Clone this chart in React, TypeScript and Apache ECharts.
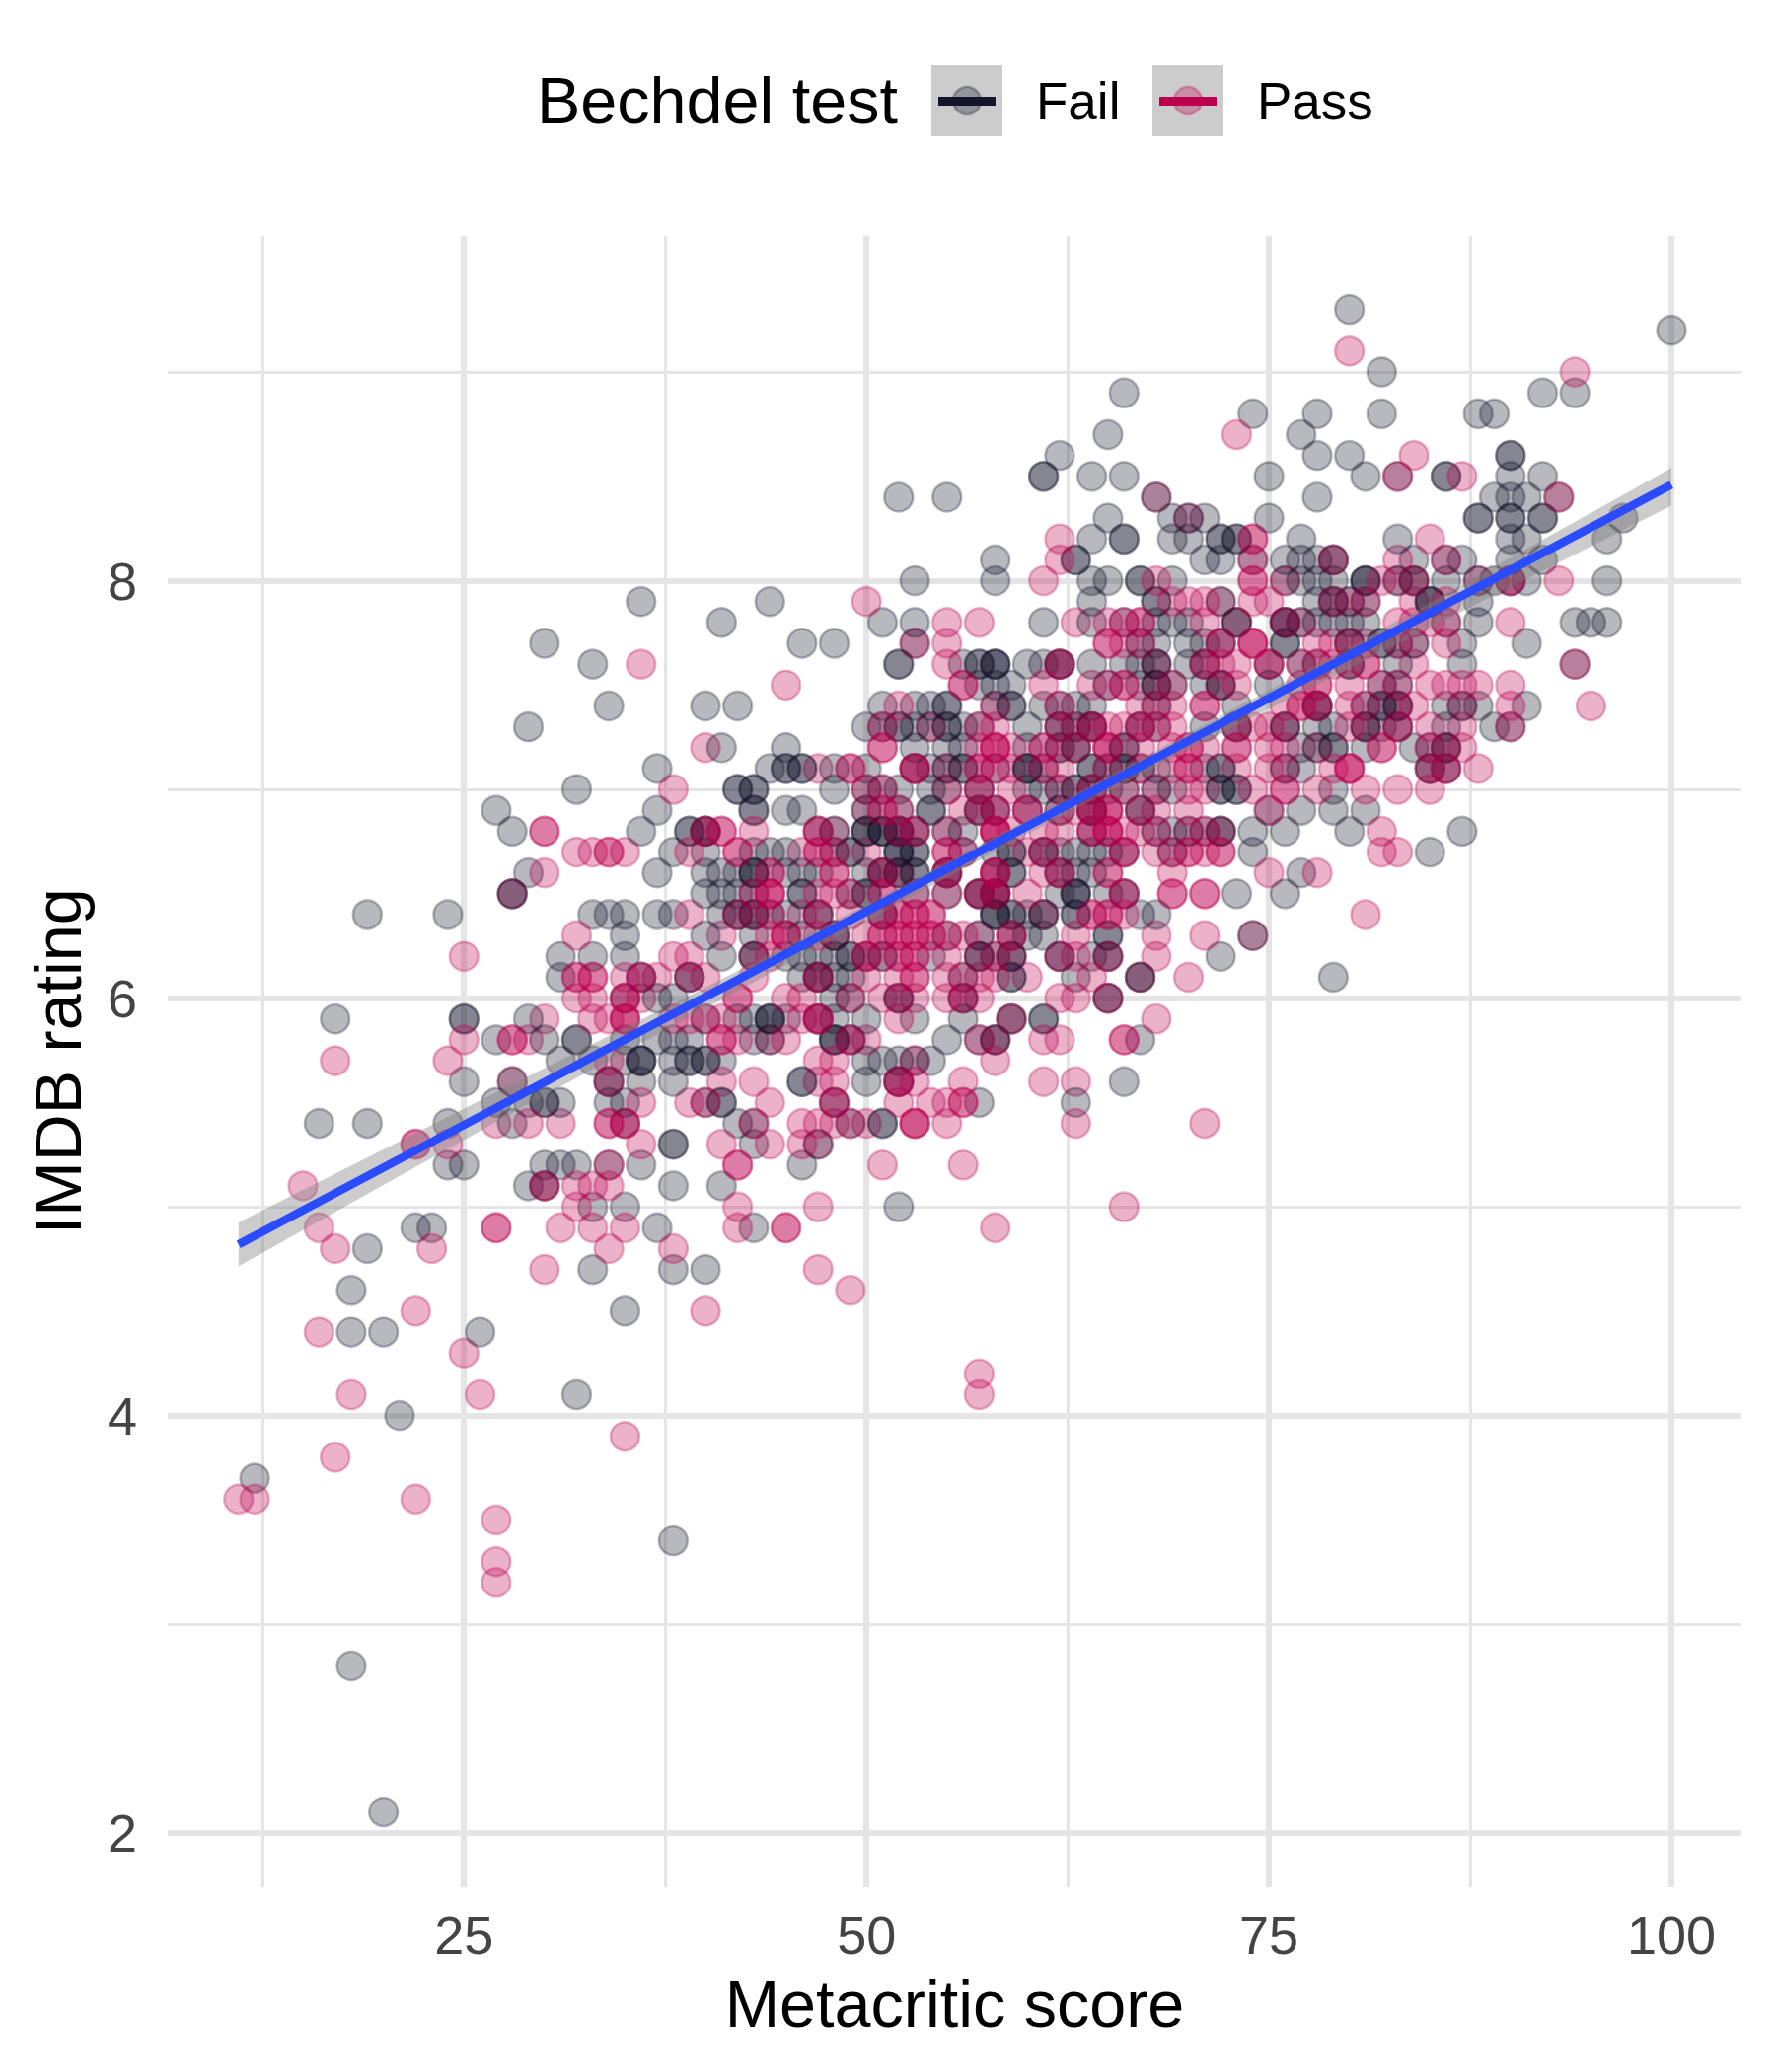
import React, { useEffect, useRef } from "react";
import * as echarts from "echarts";

const xMajor = [25, 50, 75, 100];
const xMinor = [12.5, 37.5, 62.5, 87.5];
const yMajor = [2, 4, 6, 8];
const yMinor = [3, 5, 7, 9];

// each row: [IMDB rating, [Metacritic scores...]]
const failRows: [number, number[]][] = [
  [9.3, [80]], [9.2, [100]], [9.0, [82]], [8.9, [66, 92, 94]], [8.8, [74, 78, 82, 88, 89]], [8.7, [65, 77]],
  [8.6, [62, 78, 80, 90, 90]], [8.5, [61, 61, 64, 66, 75, 81, 83, 86, 86, 90, 92]],
  [8.4, [52, 55, 68, 78, 89, 90, 91, 93]], [8.3, [65, 69, 70, 71, 75, 88, 88, 90, 90, 92, 92, 97]],
  [8.2, [64, 66, 66, 69, 70, 72, 72, 73, 73, 77, 83, 90, 91, 96]],
  [8.1, [58, 63, 63, 71, 72, 74, 76, 77, 78, 79, 79, 84, 86, 87, 90, 92]],
  [8.0, [53, 58, 64, 65, 67, 67, 69, 76, 77, 78, 79, 81, 81, 81, 83, 84, 84, 86, 88, 89, 90, 91, 96]],
  [7.9, [36, 44, 64, 68, 68, 72, 78, 79, 79, 80, 81, 85, 85, 85, 88]],
  [7.8, [41, 51, 53, 61, 64, 66, 68, 69, 70, 73, 73, 76, 76, 76, 77, 78, 79, 80, 81, 86, 88, 94, 95, 96]],
  [7.7, [30, 46, 48, 53, 67, 68, 70, 71, 72, 76, 76, 80, 80, 82, 82, 83, 84, 87, 91]],
  [7.6, [33, 52, 52, 56, 57, 57, 58, 58, 58, 60, 61, 62, 62, 64, 66, 67, 68, 68, 70, 71, 75, 77, 78, 80, 80, 83, 87, 94]],
  [7.5, [57, 58, 59, 65, 67, 68, 68, 69, 71, 72, 72, 75, 82, 83]],
  [7.4, [34, 40, 42, 51, 53, 54, 55, 55, 58, 59, 59, 61, 62, 63, 64, 68, 73, 78, 78, 81, 82, 82, 83, 83, 86, 87, 88, 91]],
  [7.3, [29, 50, 51, 52, 52, 53, 54, 55, 55, 56, 57, 60, 62, 62, 63, 64, 64, 67, 68, 71, 73, 73, 76, 76, 78, 79, 81, 81, 82, 83, 86, 89, 90]],
  [7.2, [41, 45, 53, 55, 56, 60, 62, 63, 63, 66, 66, 77, 78, 79, 79, 81, 84, 85, 86, 86]],
  [7.1, [37, 44, 45, 45, 46, 46, 48, 50, 53, 54, 55, 56, 56, 58, 60, 60, 60, 61, 64, 64, 65, 66, 66, 67, 68, 71, 72, 72, 76, 77, 85, 85, 86]],
  [7.0, [32, 42, 42, 43, 43, 48, 50, 51, 52, 54, 55, 57, 60, 61, 62, 63, 63, 64, 65, 66, 68, 69, 72, 72, 73, 73, 79]],
  [6.9, [27, 37, 43, 43, 45, 46, 50, 52, 54, 54, 57, 57, 58, 60, 62, 64, 64, 67, 67, 75, 77, 79, 81]],
  [6.8, [28, 36, 39, 39, 40, 40, 47, 48, 50, 50, 50, 51, 51, 51, 52, 52, 52, 53, 55, 56, 64, 68, 69, 70, 71, 72, 72, 74, 76, 80, 87]],
  [6.7, [38, 40, 43, 44, 45, 48, 49, 49, 52, 52, 52, 53, 53, 56, 58, 59, 59, 61, 61, 62, 63, 64, 65, 66, 69, 74, 85]],
  [6.6, [29, 37, 40, 41, 42, 43, 43, 43, 45, 46, 47, 50, 51, 51, 52, 52, 53, 53, 55, 55, 58, 59, 59, 62, 63, 64, 77]],
  [6.5, [28, 28, 40, 41, 42, 43, 46, 46, 49, 50, 50, 53, 55, 57, 57, 58, 58, 62, 63, 63, 63, 65, 66, 73, 76]],
  [6.4, [19, 24, 33, 34, 35, 37, 38, 41, 42, 42, 43, 43, 44, 45, 47, 47, 51, 51, 58, 58, 58, 59, 59, 60, 61, 61, 63, 63, 67, 68]],
  [6.3, [35, 40, 43, 46, 48, 48, 55, 57, 59, 60, 61, 65, 65, 74]],
  [6.2, [31, 33, 35, 41, 43, 43, 45, 46, 47, 48, 49, 49, 50, 51, 54, 57, 57, 58, 59, 59, 62, 62, 64, 65, 65, 72]],
  [6.1, [31, 36, 39, 39, 46, 47, 47, 48, 49, 56, 59, 59, 63, 67, 67, 79]],
  [6.0, [35, 37, 38, 48, 49, 52, 52, 56, 65, 65]],
  [5.9, [17, 25, 25, 29, 40, 42, 43, 44, 44, 44, 45, 47, 48, 50, 53, 56, 59, 59, 61, 61]],
  [5.8, [27, 30, 32, 32, 35, 37, 38, 39, 43, 44, 48, 48, 48, 49, 55, 57, 58, 58, 67]],
  [5.7, [31, 33, 35, 36, 36, 36, 38, 39, 39, 40, 40, 41, 50, 51, 52, 53, 54]],
  [5.6, [25, 28, 34, 34, 36, 38, 46, 46, 50, 52, 66]],
  [5.5, [27, 29, 30, 30, 31, 34, 35, 40, 41, 41, 48, 57, 63]],
  [5.4, [16, 19, 24, 28, 35, 42, 43, 49, 51, 51]],
  [5.3, [38, 38, 43, 47]],
  [5.2, [24, 25, 30, 31, 32, 34, 36, 46]],
  [5.1, [29, 30, 38, 41]],
  [5.0, [33, 35, 52]],
  [4.9, [22, 23, 37, 43]],
  [4.8, [19]], [4.7, [33, 38, 40]], [4.6, [18]], [4.5, [35]], [4.4, [18, 20, 26]], [4.1, [32]], [4.0, [21]],
  [3.7, [12]], [3.4, [38]], [2.8, [18]], [2.1, [20]],
];

const passRows: [number, number[]][] = [
  [9.1, [80]], [9.0, [94]], [8.7, [73]], [8.6, [84]], [8.5, [83, 87]], [8.4, [68, 93]], [8.3, [70]],
  [8.2, [62, 74, 74, 85]], [8.1, [62, 74, 79, 83, 86]],
  [8.0, [61, 68, 74, 74, 76, 82, 83, 84, 88, 90, 90, 93]],
  [7.9, [50, 69, 70, 71, 72, 74, 75, 79, 80, 81, 84, 86]],
  [7.8, [55, 57, 63, 65, 66, 67, 67, 71, 73, 76, 77, 83, 84, 85, 86, 90]],
  [7.7, [53, 55, 65, 65, 66, 67, 72, 72, 74, 74, 74, 78, 79, 80, 81, 83, 84, 86]],
  [7.6, [36, 55, 62, 62, 68, 71, 71, 72, 73, 75, 75, 77, 78, 79, 81, 81, 84, 94]],
  [7.5, [45, 56, 56, 61, 64, 65, 66, 66, 68, 69, 72, 73, 77, 78, 78, 80, 82, 83, 85, 86, 87, 88, 90]],
  [7.4, [52, 58, 62, 67, 68, 69, 71, 71, 76, 77, 77, 78, 78, 80, 81, 83, 84, 87, 90, 95]],
  [7.3, [51, 54, 57, 58, 62, 63, 64, 64, 65, 66, 67, 67, 68, 69, 73, 74, 75, 76, 80, 81, 83, 83, 85, 87, 90]],
  [7.2, [40, 51, 51, 57, 58, 58, 58, 59, 61, 61, 62, 63, 65, 65, 65, 67, 69, 70, 70, 71, 73, 73, 75, 76, 78, 82, 82, 85, 86, 87]],
  [7.1, [47, 49, 49, 53, 53, 53, 55, 57, 57, 58, 59, 61, 62, 65, 67, 69, 70, 70, 73, 75, 76, 79, 80, 80, 80, 85, 86, 86, 88]],
  [7.0, [38, 50, 51, 55, 57, 57, 59, 62, 64, 64, 66, 68, 70, 71, 74, 76, 76, 78, 81, 83, 85]],
  [6.9, [50, 51, 51, 52, 56, 57, 58, 58, 60, 60, 62, 63, 64, 64, 65, 65, 65, 67, 68, 70, 75]],
  [6.8, [30, 30, 40, 40, 41, 41, 43, 47, 47, 48, 52, 53, 53, 55, 58, 58, 58, 58, 59, 61, 62, 64, 64, 65, 65, 65, 66, 67, 68, 70, 71, 72, 82]],
  [6.7, [32, 33, 34, 34, 35, 39, 42, 42, 46, 47, 47, 48, 50, 55, 55, 56, 60, 61, 66, 66, 68, 69, 70, 70, 71, 72, 72, 82, 83]],
  [6.6, [30, 44, 44, 48, 48, 51, 51, 52, 55, 55, 58, 58, 58, 61, 62, 62, 65, 65, 69, 75, 78]],
  [6.5, [28, 43, 44, 44, 44, 47, 48, 49, 51, 51, 53, 55, 57, 57, 58, 58, 58, 60, 66, 66, 69, 69, 71, 71]],
  [6.4, [39, 42, 43, 44, 46, 47, 49, 51, 52, 52, 53, 53, 54, 54, 61, 64, 64, 65, 65, 66, 81]],
  [6.3, [32, 41, 44, 45, 45, 45, 47, 48, 50, 51, 51, 52, 52, 53, 53, 54, 54, 55, 56, 57, 59, 59, 63, 68, 71, 74]],
  [6.2, [25, 38, 39, 43, 44, 50, 50, 51, 52, 52, 53, 53, 55, 57, 58, 59, 62, 63, 65, 68]],
  [6.1, [32, 32, 33, 33, 35, 36, 36, 37, 39, 40, 43, 47, 47, 50, 52, 53, 53, 55, 56, 57, 58, 60, 64, 67, 70]],
  [6.0, [32, 33, 35, 35, 36, 42, 42, 45, 46, 49, 51, 52, 53, 55, 56, 56, 57, 62, 63, 65]],
  [5.9, [30, 33, 34, 35, 35, 35, 38, 39, 40, 41, 46, 47, 47, 47, 52, 59, 68]],
  [5.8, [25, 28, 28, 29, 41, 41, 42, 44, 45, 49, 49, 50, 57, 58, 61, 62, 66, 66]],
  [5.7, [17, 24, 34, 47, 48, 53, 58]],
  [5.6, [28, 34, 41, 43, 47, 48, 52, 52, 52, 53, 56, 61, 63]],
  [5.5, [36, 39, 40, 44, 48, 48, 52, 54, 55, 56, 56]],
  [5.4, [27, 29, 31, 34, 34, 35, 35, 43, 46, 47, 48, 49, 50, 53, 53, 53, 55, 63, 71]],
  [5.3, [22, 22, 24, 36, 41, 44, 46, 47]],
  [5.2, [34, 42, 42, 51, 56]],
  [5.1, [15, 30, 30, 32, 33, 34]],
  [5.0, [32, 42, 47, 66]],
  [4.9, [16, 27, 27, 31, 33, 35, 42, 45, 45, 58]],
  [4.8, [17, 23, 34, 38]], [4.7, [30, 47]], [4.6, [49]], [4.5, [22, 40]], [4.4, [16]], [4.3, [25]], [4.2, [57]],
  [4.1, [18, 26, 57]], [3.9, [35]], [3.8, [17]], [3.6, [11, 12, 22]], [3.5, [27]], [3.3, [27]], [3.2, [27]],
];

const smoothX = [11, 100];
const smoothY = [4.82, 8.46];
const bandX = [11, 20, 30, 40, 50, 60, 70, 80, 90, 100];
const bandLow = [4.715, 5.105, 5.535, 5.95, 6.37, 6.785, 7.19, 7.58, 7.97, 8.36];
const bandHigh = [4.925, 5.275, 5.665, 6.05, 6.45, 6.855, 7.27, 7.68, 8.11, 8.54];

const FAIL = "#14142b";
const PASS = "#bc004e";
const FAIL_A = "rgba(20,20,43,0.3)";
const PASS_A = "rgba(188,0,78,0.3)";
const FONT = "Liberation Sans";

const expand = (rows: [number, number[]][]) => rows.flatMap(([y, xs]) => xs.map((x) => [x, y]));

function legendGraphics() {
  const key = (x0: number, color: string, faded: string) => [
    { type: "rect", shape: { x: x0, y: 66, width: 72, height: 72 }, style: { fill: "#cccccc" } },
    { type: "circle", shape: { cx: x0 + 36, cy: 102, r: 14 }, style: { fill: faded, stroke: faded, lineWidth: 2.5 } },
    { type: "rect", shape: { x: x0 + 7, y: 98, width: 58, height: 9 }, style: { fill: color } },
  ];
  const txt = (x: number, y: number, text: string, size: number) => ({
    type: "text",
    x,
    y,
    style: { text, fontSize: size, fontFamily: FONT, fill: "#000000", verticalAlign: "middle" },
  });
  return [
    txt(544, 102, "Bechdel test", 66.5),
    ...key(944, FAIL, FAIL_A),
    txt(1050, 102, "Fail", 53),
    ...key(1168, PASS, PASS_A),
    txt(1274, 102, "Pass", 53),
  ];
}

// the reference mixes both groups in its drawing order, so each group is drawn in two layers
const layer = (name: string, rows: [number, number[]][], part: number, color: string) => ({
  type: "scatter",
  name,
  data: expand(rows).filter((_, i) => i % 2 === part),
  symbol: "circle",
  symbolSize: 29,
  progressive: 0,
  z: 2,
  itemStyle: { color, borderColor: color, borderWidth: 2.5, opacity: 1 },
});

export default function App() {
  const ref = useRef<HTMLDivElement>(null);
  useEffect(() => {
    const chart = echarts.init(ref.current!, undefined, { renderer: "svg" });
    const gridLine = (k: "xAxis" | "yAxis", vals: number[], width: number) =>
      vals.map((v) => ({ [k]: v, lineStyle: { color: "#e5e5e5", width, type: "solid" } }));
    chart.setOption({
      animation: false,
      backgroundColor: "#ffffff",
      grid: { left: 170, right: 35, top: 238.7, bottom: 187.3, outerBoundsMode: "none", containLabel: false },
      graphic: legendGraphics(),
      xAxis: {
        type: "value",
        min: 6.6,
        max: 104.35,
        name: "Metacritic score",
        nameLocation: "middle",
        nameGap: 85,
        nameTextStyle: { fontFamily: FONT, fontSize: 66.5, color: "#000000" },
        axisLine: { show: false },
        axisTick: { show: false, customValues: xMajor },
        splitLine: { show: false },
        axisLabel: { customValues: xMajor, fontFamily: FONT, fontSize: 54, color: "#444444", margin: 21 },
      },
      yAxis: {
        type: "value",
        min: 1.74,
        max: 9.654,
        name: "IMDB rating",
        nameLocation: "middle",
        nameRotate: 90,
        nameGap: 78,
        nameTextStyle: { fontFamily: FONT, fontSize: 66.5, color: "#000000" },
        axisLine: { show: false },
        axisTick: { show: false, customValues: yMajor },
        splitLine: { show: false },
        axisLabel: { customValues: yMajor, fontFamily: FONT, fontSize: 54, color: "#444444", margin: 31 },
      },
      series: [
        {
          type: "scatter",
          name: "grid",
          data: [],
          silent: true,
          z: 0,
          markLine: {
            silent: true,
            symbol: "none",
            z: 0,
            label: { show: false },
            data: [
              ...gridLine("xAxis", xMinor, 3.2),
              ...gridLine("yAxis", yMinor, 3.2),
              ...gridLine("xAxis", xMajor, 6.2),
              ...gridLine("yAxis", yMajor, 6.2),
            ],
          },
        },
        layer("Fail", failRows, 0, FAIL_A),
        layer("Pass", passRows, 0, PASS_A),
        layer("Fail", failRows, 1, FAIL_A),
        layer("Pass", passRows, 1, PASS_A),
        {
          type: "custom",
          name: "band",
          silent: true,
          z: 3,
          data: bandX.map((x, i) => [x, bandLow[i], bandHigh[i]]),
          encode: { x: 0, y: [1, 2] },
          renderItem: (params: any, api: any) => {
            if (params.dataIndex !== 0) return null;
            const up = bandX.map((x, i) => api.coord([x, bandHigh[i]]));
            const lo = bandX.map((x, i) => api.coord([x, bandLow[i]])).reverse();
            return { type: "polygon", shape: { points: [...up, ...lo] }, style: { fill: "rgba(127,127,127,0.4)" } };
          },
        },
        {
          type: "line",
          name: "smooth",
          silent: true,
          z: 4,
          symbol: "none",
          data: smoothX.map((x, i) => [x, smoothY[i]]),
          lineStyle: { color: "#2b4bff", width: 8.5, cap: "butt" },
        },
      ],
    });
    return () => chart.dispose();
  }, []);
  return <div ref={ref} style={{ position: "absolute", left: 0, top: 0, width: 1800, height: 2100, background: "#fff" }} />;
}
